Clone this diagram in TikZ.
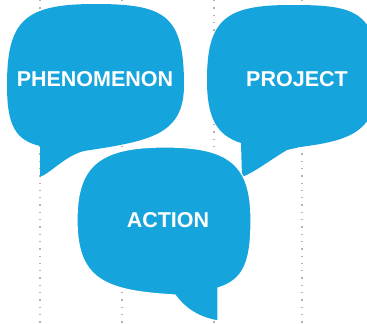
\documentclass[tikz,border=0pt]{standalone}
\usepackage{fontspec}
\setmainfont{Liberation Sans}
\definecolor{bubbleblue}{RGB}{22,164,221}
\tikzset{
  bubble/.style={fill=bubbleblue},
  guide/.style={draw=gray!60, line width=1.3pt, dash pattern=on 1.3pt off 6pt},
  bubbletext/.style={text=white, font=\fontsize{21.5}{24}\selectfont\bfseries}
}

\begin{document}
\begin{tikzpicture}[x=1pt, y=-1pt]
    \useasboundingbox (0,0) rectangle (367,324);
    \clip (0,0) rectangle (367,324);
    \fill[white] (0,0) rectangle (367,324);

    % dotted guides behind the bubbles
    \foreach \x in {40,122,214,302}
        \draw[guide] (\x,0) -- (\x,324);

    % left bubble
    \fill[bubble] (40,177) -- (40,146)
        .. controls (15,140) and (7,125) .. (7,85)
        .. controls (7,20) and (25,4) .. (95,4)
        .. controls (165,4) and (184,15) .. (184,85)
        .. controls (184,135) and (150,141) .. (84,151)
        .. controls (65,156) and (52,172) .. (40,177) -- cycle;

    % right bubble
    \fill[bubble] (242,177) -- (241,143)
        .. controls (215,135) and (207,115) .. (207,80)
        .. controls (207,20) and (225,5) .. (290,5)
        .. controls (350,5) and (378,8) .. (378,75)
        .. controls (378,130) and (355,140) .. (300,147)
        -- (287,150)
        .. controls (270,160) and (255,172) .. (242,177) -- cycle;

    % front bubble
    \filldraw[bubble, draw=white, line width=1.2pt] (218,321) -- (218,288)
        .. controls (245,280) and (251,260) .. (251,220)
        .. controls (251,165) and (230,147) .. (165,147)
        .. controls (100,147) and (77,165) .. (77,220)
        .. controls (77,280) and (105,291) .. (175,295)
        .. controls (186,310) and (200,318) .. (218,321) -- cycle;

    \node at (95,79) [bubbletext] (Phenomenon) {PHENOMENON};
    \node at (297,79) [bubbletext] (Project) {PROJECT};
    \node at (168,220) [bubbletext] (Action) {ACTION};
\end{tikzpicture}
\end{document}
